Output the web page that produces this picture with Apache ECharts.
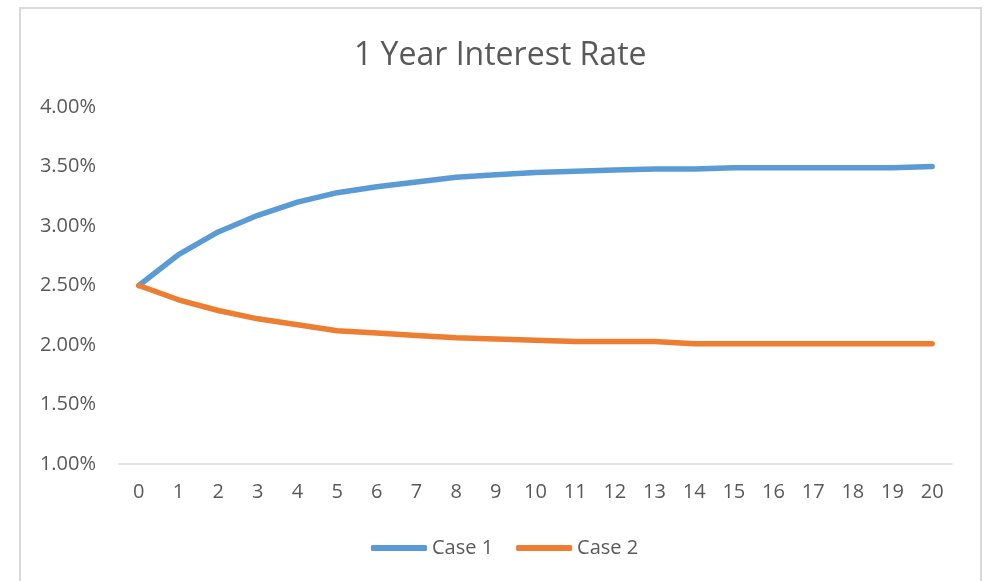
<!DOCTYPE html>
<html>
<head>
<meta charset="utf-8">
<script src="https://cdn.jsdelivr.net/npm/echarts@6/dist/echarts.min.js"></script>
<style>
  html, body { margin: 0; padding: 0; background: #ffffff; }
  #chart { width: 989px; height: 581px; }
</style>
</head>
<body>
<div id="chart"></div>
<script>
// Years from now
const years = ['0','1','2','3','4','5','6','7','8','9','10','11','12','13','14','15','16','17','18','19','20'];
// 1-year rate paths, in percent
const case1 = [2.50, 2.76, 2.95, 3.09, 3.20, 3.28, 3.33, 3.37, 3.41, 3.43, 3.45, 3.46, 3.47, 3.48, 3.48, 3.49, 3.49, 3.49, 3.49, 3.49, 3.50];
const case2 = [2.50, 2.38, 2.29, 2.22, 2.17, 2.12, 2.10, 2.08, 2.06, 2.05, 2.04, 2.03, 2.03, 2.03, 2.01, 2.01, 2.01, 2.01, 2.01, 2.01, 2.01];
const seriesNames = ['Case 1', 'Case 2'];
const yMin = 1.0, yMax = 4.0, yStep = 0.5;

const FONT = '"Open Sans", "Noto Sans", sans-serif';
const TEXT = '#595959';

const chart = echarts.init(document.getElementById('chart'), null, { renderer: 'canvas' });
chart.setOption({
  animation: false,
  backgroundColor: '#ffffff',
  textStyle: { fontFamily: FONT },
  title: {
    text: '1 Year Interest Rate',
    left: 349,
    top: 35,
    textStyle: { fontFamily: FONT, fontSize: 32, fontWeight: 'normal', color: TEXT }
  },
  graphic: [{
    type: 'rect',
    shape: { x: 20, y: 8, width: 961, height: 600 },
    style: { fill: 'none', stroke: '#d9d9d9', lineWidth: 2 },
    silent: true
  }],
  legend: {
    top: 538,
    left: 371,
    padding: 0,
    itemWidth: 56,
    itemHeight: 6,
    itemGap: 23,
    icon: 'roundRect',
    textStyle: { fontFamily: FONT, fontSize: 20, color: TEXT },
    data: seriesNames
  },
  grid: { left: 119, right: 37, top: 107, bottom: 117, containLabel: false },
  xAxis: {
    type: 'category',
    data: years,
    boundaryGap: true,
    axisLine: { show: true, lineStyle: { color: '#d9d9d9', width: 1.5 } },
    axisTick: { show: false },
    axisLabel: { fontFamily: FONT, fontSize: 20, color: TEXT, margin: 18 },
    splitLine: { show: false }
  },
  yAxis: {
    type: 'value',
    min: yMin,
    max: yMax,
    interval: yStep,
    axisLine: { show: false },
    axisTick: { show: false },
    splitLine: { show: false },
    axisLabel: {
      fontFamily: FONT, fontSize: 20, color: TEXT, margin: 23,
      formatter: v => v.toFixed(2) + '%'
    }
  },
  series: [
    {
      name: seriesNames[0], type: 'line', data: case1,
      smooth: false, showSymbol: false,
      lineStyle: { color: '#5b9bd5', width: 5.5, cap: 'round', join: 'round' },
      itemStyle: { color: '#5b9bd5' }
    },
    {
      name: seriesNames[1], type: 'line', data: case2,
      smooth: false, showSymbol: false,
      lineStyle: { color: '#ed7d31', width: 5.5, cap: 'round', join: 'round' },
      itemStyle: { color: '#ed7d31' }
    }
  ]
});
</script>
</body>
</html>
